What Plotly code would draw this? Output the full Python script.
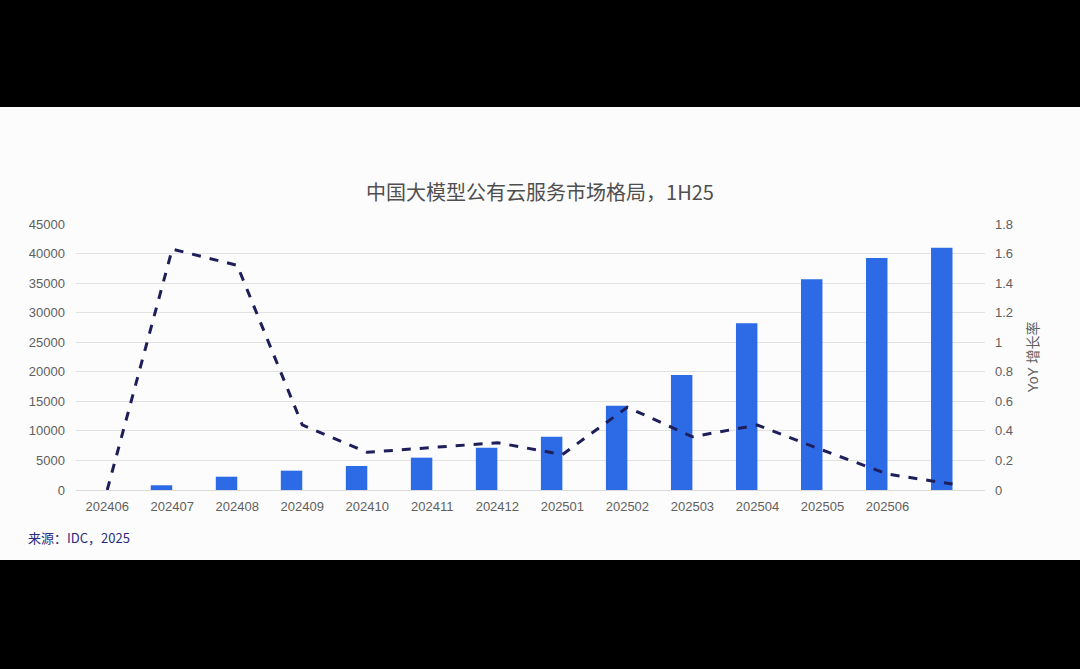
import plotly.graph_objects as go

# Monthly categories (last one has no label on the axis)
months = ['202406', '202407', '202408', '202409', '202410', '202411', '202412',
          '202501', '202502', '202503', '202504', '202505', '202506', '202507']
tick_labels = ['202406', '202407', '202408', '202409', '202410', '202411', '202412',
               '202501', '202502', '202503', '202504', '202505', '202506', '']

# Market size (bars, left axis)
market_size = [None, 800, 2250, 3270, 4060, 5470, 7160,
               9020, 14260, 19450, 28200, 35640, 39250, 41000]

# YoY growth (dashed line, right axis)
yoy_growth = [0, 1.63, 1.52, 0.44, 0.255, 0.286, 0.32,
              0.24, 0.56, 0.36, 0.44, 0.27, 0.108, 0.04]

left_ticks = [0, 5000, 10000, 15000, 20000, 25000, 30000, 35000, 40000, 45000]
right_ticks = [0, 0.2, 0.4, 0.6, 0.8, 1, 1.2, 1.4, 1.6, 1.8]

font_family = 'Arial, Liberation Sans, Noto Sans CJK SC'
gray = '#5f5f5f'

fig = go.Figure()

# Bars sit just left of the category centre
fig.add_trace(go.Bar(
    x=months, y=market_size, name='市场规模',
    marker=dict(color='#2d6be6', line=dict(width=0)),
    width=0.33, offset=-0.33,
))

fig.add_trace(go.Scatter(
    x=months, y=yoy_growth, name='YoY 增长率', yaxis='y2',
    mode='lines', line=dict(color='#1e1e5a', width=3, dash='dash'),
))

fig.update_layout(
    width=1080, height=669,
    margin=dict(l=76, r=95, t=224, b=179),
    paper_bgcolor='#000000',
    plot_bgcolor='#fcfcfc',
    showlegend=False,
    font=dict(family=font_family, color=gray, size=13),
    title=dict(
        text='中国大模型公有云服务市场格局，1H25',
        x=0.5, xanchor='center', xref='container',
        y=1 - 193 / 669, yanchor='middle', yref='container',
        font=dict(size=20, color='#4f4f4f', family='Noto Sans CJK SC, Arial'),
    ),
    xaxis=dict(
        type='category',
        range=[-0.48, 13.5],
        tickvals=months, ticktext=tick_labels,
        showgrid=False, showline=False, ticks='',
        ticklabelstandoff=7,
        tickfont=dict(size=13, color=gray),
    ),
    yaxis=dict(
        range=[0, 45000], tickvals=left_ticks, tickformat='d',
        showgrid=True, gridcolor='#e2e2e2', gridwidth=1,
        zeroline=True, zerolinecolor='#dadada', zerolinewidth=1,
        showline=False, ticks='', ticklen=0,
        ticklabelstandoff=10,
        tickfont=dict(size=13, color=gray),
    ),
    yaxis2=dict(
        overlaying='y', side='right',
        range=[0, 1.8], tickvals=right_ticks,
        showgrid=False, zeroline=False, showline=False,
        ticklabelstandoff=9,
        tickfont=dict(size=13, color=gray),
        title=dict(text='YoY 增长率', font=dict(size=14, color=gray), standoff=16),
    ),
    shapes=[dict(
        type='rect', xref='paper', yref='paper',
        x0=-0.09, x1=1.11, y0=-0.263, y1=1.44,
        fillcolor='#fcfcfc', line=dict(width=0), layer='below',
    )],
    annotations=[dict(
        text='来源：IDC，2025', xref='paper', yref='paper',
        x=-0.055, y=-0.18, xanchor='left', yanchor='middle',
        showarrow=False,
        font=dict(size=13, color='#2a2a80', family='Noto Sans CJK SC, Arial'),
    )],
)

# remove the default page margin so the figure fills the window
fig.write_html('out.html', config={'displayModeBar': False},
               post_script="document.body.style.margin='0';document.body.style.background='#000';")
